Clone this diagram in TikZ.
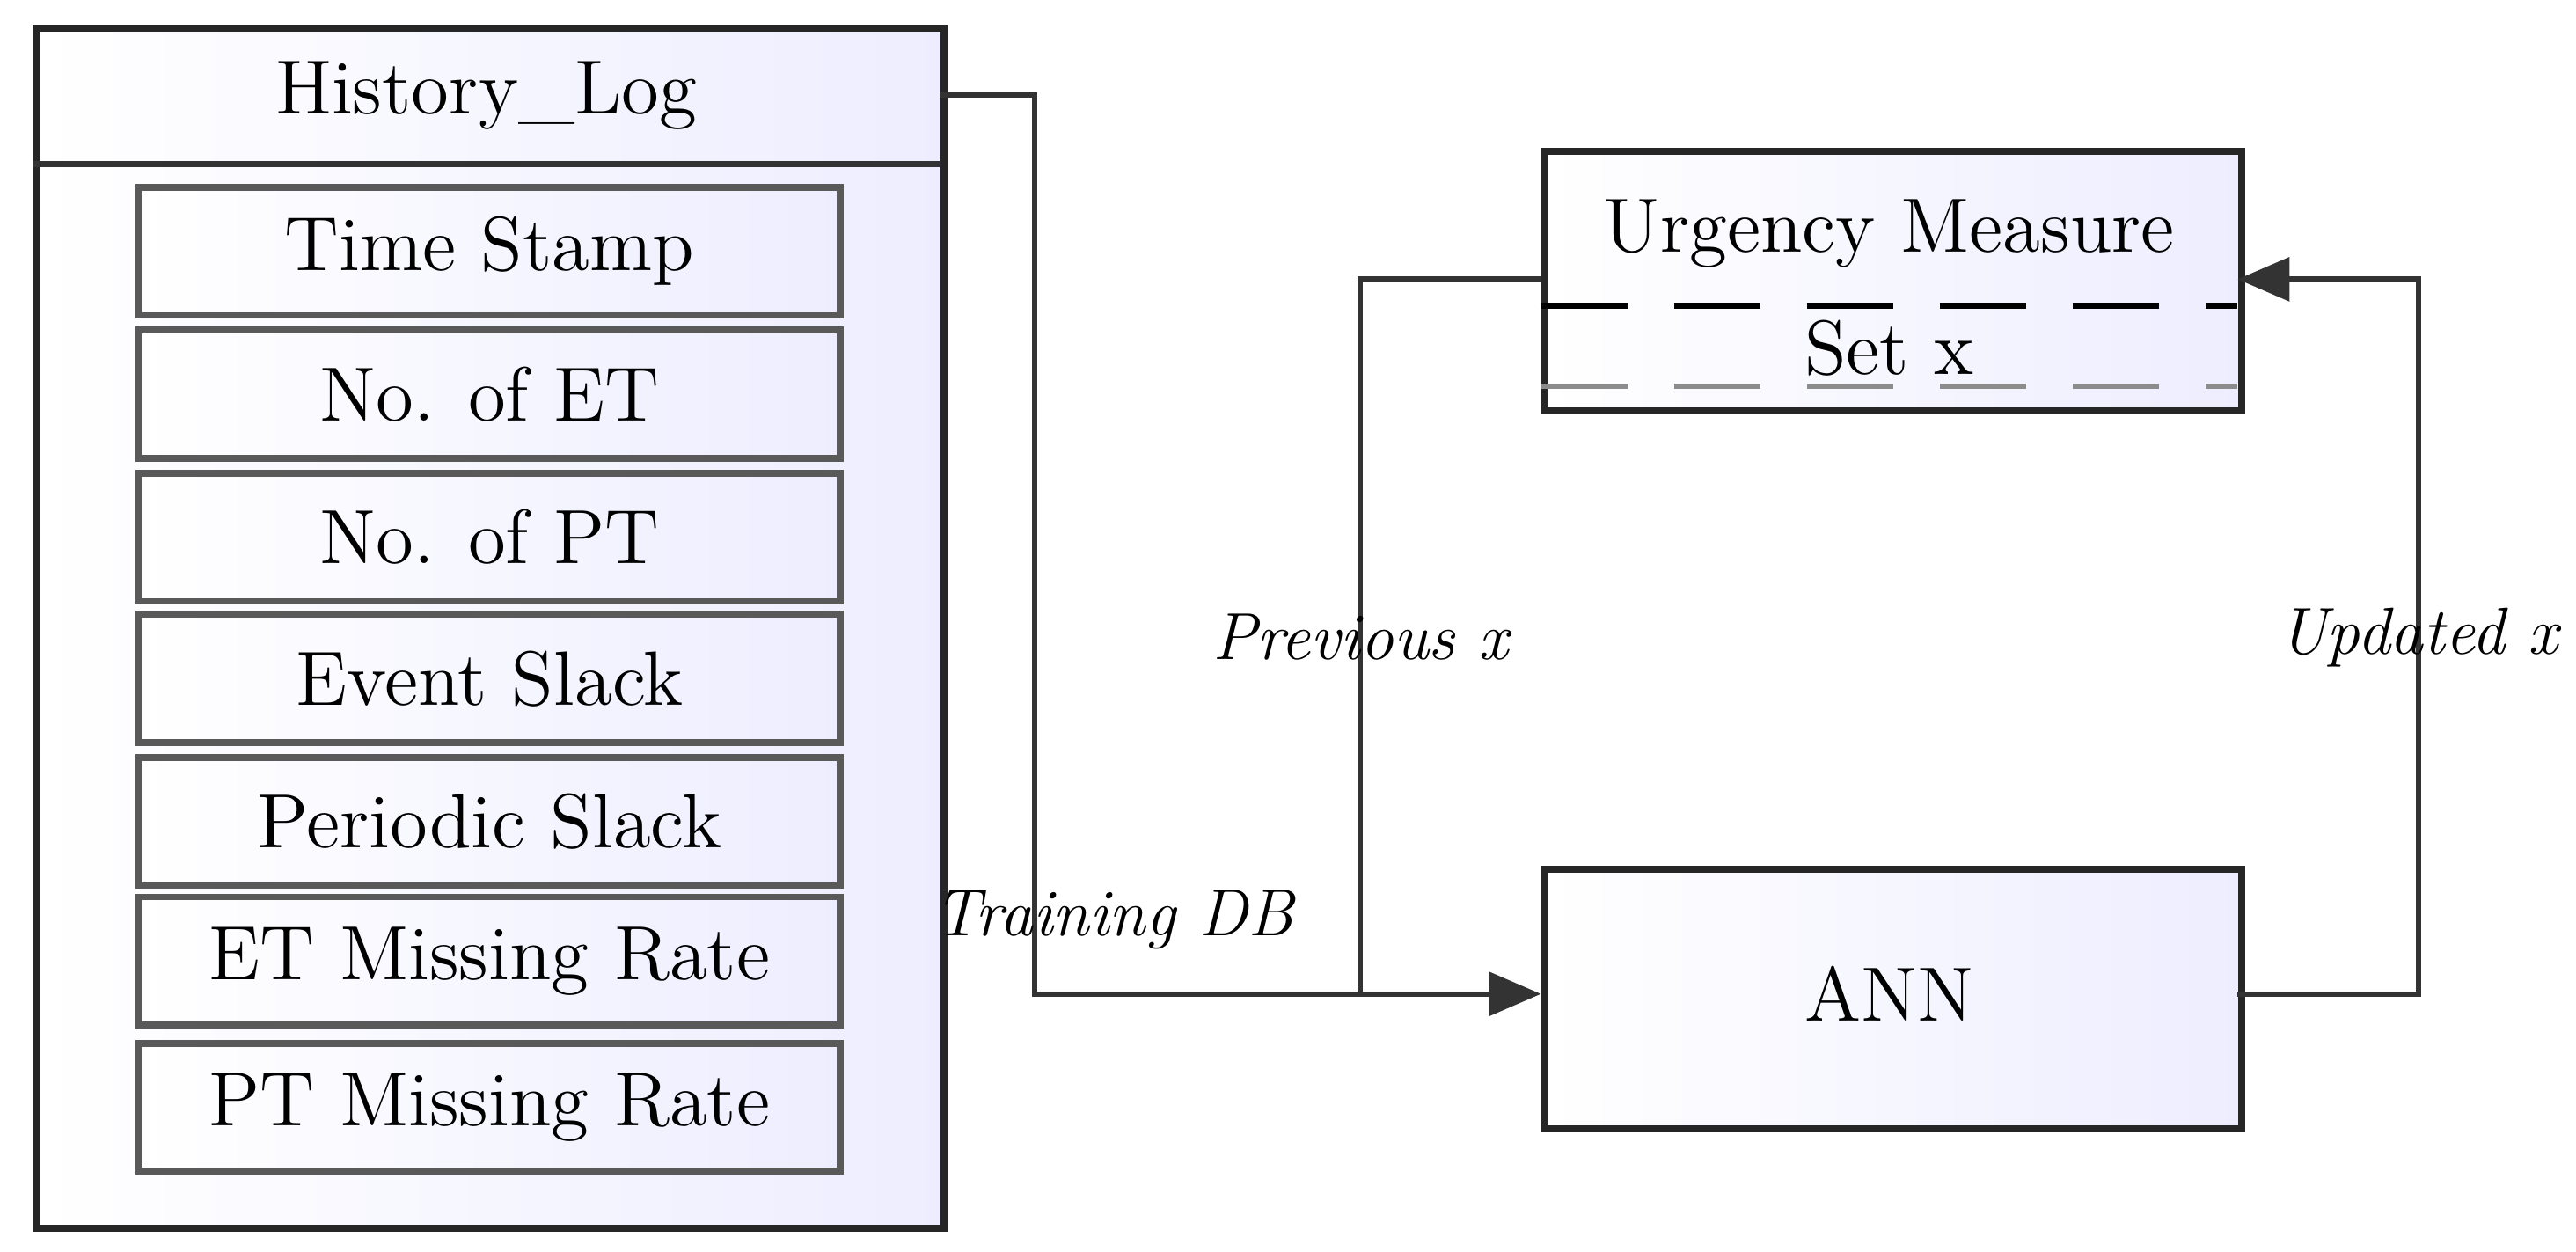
\documentclass[tikz,border=0pt]{standalone}
\usepackage{tikz}
\usetikzlibrary{arrows.meta}
\begin{document}
\begin{tikzpicture}[x=0.01cm,y=-0.01cm,
  box/.style={draw=black!85,line width=1.2pt,left color=white,right color=blue!7,inner sep=0pt,font=\fontsize{13.3}{16}\selectfont},
  field/.style={box,draw=black!65,minimum width=4.27cm,minimum height=0.78cm},
  lbl/.style={font=\fontsize{11.5}{14}\selectfont\itshape},
  conn/.style={line width=0.9pt,draw=black!80},
  tip/.style={-{Triangle[length=9pt,width=7.5pt]}}]
\useasboundingbox (0,0) rectangle (1568,762);
\node[box,minimum width=5.52cm,minimum height=7.30cm,anchor=north west] (hl) at (20,15) {};
\draw[line width=1.1pt,black!80] (20,100) -- (572,100);
\node[font=\fontsize{13.3}{16}\selectfont] (hlt) at (296,58) {History\_Log};
\coordinate (hlr) at (572,58);
\node[field] (f1) at (298,153) {Time Stamp};
\node[field] (f2) at (298,240) {No. of ET};
\node[field] (f3) at (298,327) {No. of PT};
\node[field] (f4) at (298,413) {Event Slack};
\node[field] (f5) at (298,500) {Periodic Slack};
\node[field] (f6) at (298,585) {ET Missing Rate};
\node[field] (f7) at (298,674) {PT Missing Rate};
\node[box,minimum width=4.24cm,minimum height=1.58cm,anchor=north west] (um) at (938,90) {};
\node[font=\fontsize{13.3}{16}\selectfont] (umt) at (1150,142) {Urgency Measure};
\node[font=\fontsize{13.3}{16}\selectfont] (sx) at (1150,212) {Set x};
\draw[line width=1pt,dash pattern=on 15pt off 8pt] (938,186) -- (1362,186);
\draw[line width=1pt,black!45,dash pattern=on 15pt off 8pt] (938,235) -- (1362,235);
\node[box,minimum width=4.24cm,minimum height=1.58cm,anchor=north west] (ann) at (938,527) {};
\node[font=\fontsize{13.3}{16}\selectfont] at (1150,605) {ANN};
\coordinate (um-l) at (938,170);
\coordinate (um-r) at (1362,170);
\coordinate (ann-l) at (938,605);
\coordinate (ann-r) at (1362,605);
\coordinate (j) at (828,605);
\draw[conn,tip] (hlr) -- (630,58) -- (630,605) -- (ann-l);
\draw[conn] (um-l) -- (828,170) -- (j);
\draw[conn,tip] (ann-r) -- (1472,605) -- (1472,170) -- (um-r);
\node[lbl] at (828,388) {Previous x};
\node[lbl] at (1472,388) {Updated x};
\node[lbl] at (678,560) {Training DB};
\end{tikzpicture}
\end{document}
